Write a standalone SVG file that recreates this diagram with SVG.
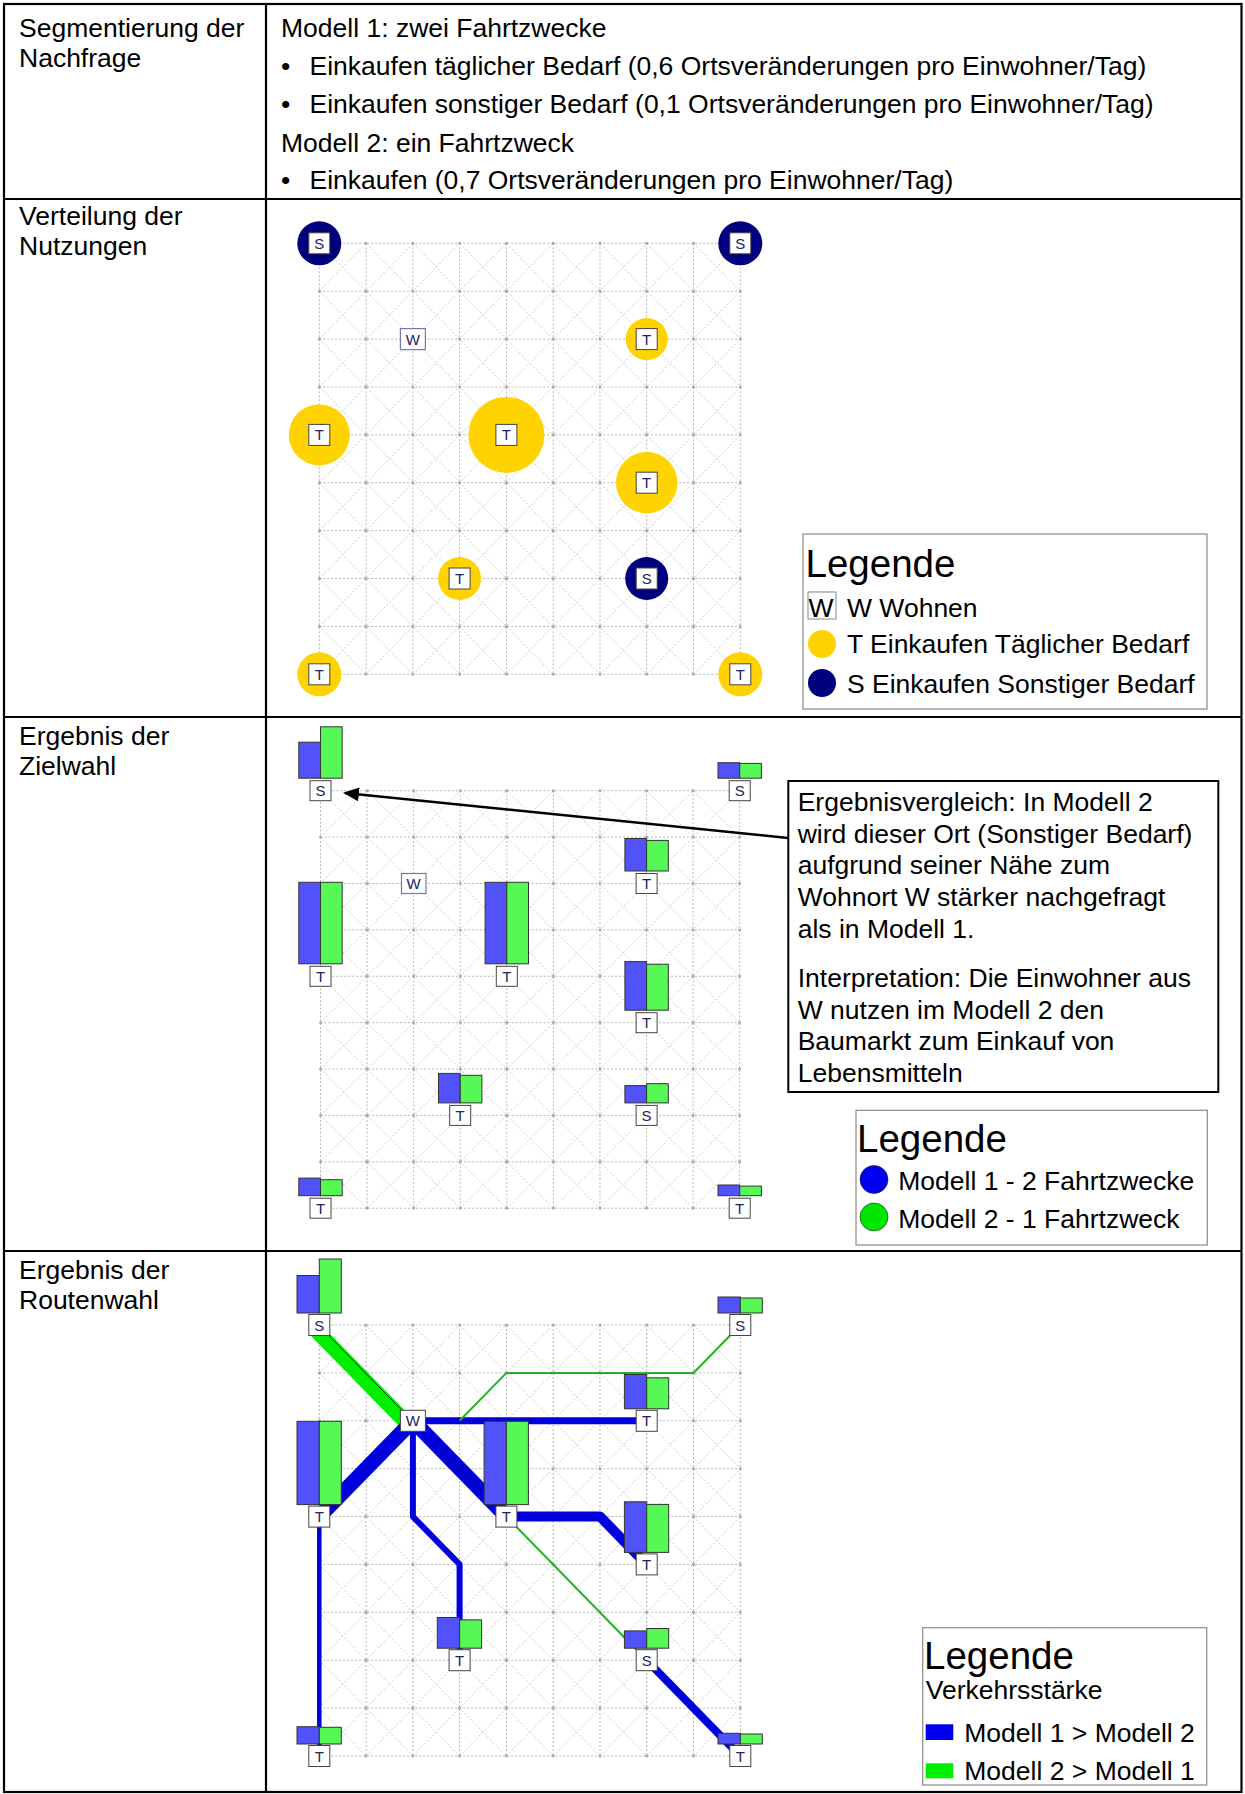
<svg xmlns="http://www.w3.org/2000/svg" width="1245" height="1794" viewBox="0 0 1245 1794">
<style>
.t{font-family:"Liberation Sans",Arial,sans-serif;font-size:26.5px;fill:#000}
.lg{font-family:"Liberation Sans",Arial,sans-serif;font-size:38.5px;fill:#000}
.lbl{font-family:"Liberation Sans",Arial,sans-serif;font-size:15px;fill:#22225e;text-anchor:middle}
.box{fill:#fff;stroke:#444;stroke-width:1}
.wbox{fill:#fff;stroke:#7777aa;stroke-width:1.2}
.bb{fill:#5252fa;stroke:#333;stroke-width:1}
.gb{fill:#55f855;stroke:#333;stroke-width:1}
.tl{stroke:#000;stroke-width:2.2;fill:none}
.go{stroke:#b4b4b4;stroke-width:1;stroke-dasharray:2 2;fill:none}
.gd{stroke:#cdcdcd;stroke-width:1;stroke-dasharray:2 2;fill:none}
.gdot{stroke:#a8a8a8;stroke-width:2.5;stroke-dasharray:2.5 44.278;fill:none}
.yc{fill:#ffd300}
.nc{fill:#00007f}
.rb{stroke:#0000dd;fill:none;stroke-linejoin:round}
.rg{stroke:#25b025;fill:none;stroke-width:2}
.leg{fill:#fff;stroke:#8a8a8a;stroke-width:1.2}
</style>
<defs>
<g id="grid">
<path class="gd" d="M0 383.11L46.78 431M0 335.22L93.56 431M0 287.33L140.33 431M0 239.44L187.11 431M0 191.56L233.89 431M0 143.67L280.67 431M0 95.78L327.44 431M0 47.89L374.22 431M0 0L421 431M46.78 0L421 383.11M93.56 0L421 335.22M140.33 0L421 287.33M187.11 0L421 239.44M233.89 0L421 191.56M280.67 0L421 143.67M327.44 0L421 95.78M374.22 0L421 47.89M0 47.89L46.78 0M0 95.78L93.56 0M0 143.67L140.33 0M0 191.56L187.11 0M0 239.44L233.89 0M0 287.33L280.67 0M0 335.22L327.44 0M0 383.11L374.22 0M0 431L421 0M46.78 431L421 47.89M93.56 431L421 95.78M140.33 431L421 143.67M187.11 431L421 191.56M233.89 431L421 239.44M280.67 431L421 287.33M327.44 431L421 335.22M374.22 431L421 383.11"/>
<path class="go" d="M0 0V431M46.78 0V431M93.56 0V431M140.33 0V431M187.11 0V431M233.89 0V431M280.67 0V431M327.44 0V431M374.22 0V431M421 0V431M0 0H421M0 47.89H421M0 95.78H421M0 143.67H421M0 191.56H421M0 239.44H421M0 287.33H421M0 335.22H421M0 383.11H421M0 431H421"/>
<path class="gdot" d="M-1.25 0H422.5M-1.25 47.89H422.5M-1.25 95.78H422.5M-1.25 143.67H422.5M-1.25 191.56H422.5M-1.25 239.44H422.5M-1.25 287.33H422.5M-1.25 335.22H422.5M-1.25 383.11H422.5M-1.25 431H422.5"/>
</g>
<marker id="ah" viewBox="0 0 16 14" refX="14" refY="7" markerWidth="16" markerHeight="14" markerUnits="userSpaceOnUse" orient="auto"><path d="M0,0 L16,7 L0,14 z" fill="#000"/></marker>
</defs>

<g id="table">
<rect class="tl" x="4" y="4" width="1237.5" height="1788"/>
<path class="tl" d="M266 4V1792M4 199H1241.5M4 717H1241.5M4 1251H1241.5"/>
</g>

<g id="row1">
<text class="t" x="19" y="37">Segmentierung der</text>
<text class="t" x="19" y="67">Nachfrage</text>
<text class="t" x="281" y="37">Modell 1: zwei Fahrtzwecke</text>
<text class="t" x="281" y="75">•</text><text class="t" x="309.5" y="75">Einkaufen täglicher Bedarf (0,6 Ortsveränderungen pro Einwohner/Tag)</text>
<text class="t" x="281" y="113">•</text><text class="t" x="309.5" y="113">Einkaufen sonstiger Bedarf (0,1 Ortsveränderungen pro Einwohner/Tag)</text>
<text class="t" x="281" y="152">Modell 2: ein Fahrtzweck</text>
<text class="t" x="281" y="189">•</text><text class="t" x="309.5" y="189">Einkaufen (0,7 Ortsveränderungen pro Einwohner/Tag)</text>
</g>

<g id="row2">
<text class="t" x="19" y="225">Verteilung der</text>
<text class="t" x="19" y="255">Nutzungen</text>
<use href="#grid" transform="translate(319.3,243.3)"/>
<g id="r2-S00"><circle class="nc" cx="319.3" cy="243.3" r="22"/><rect class="box" x="308.8" y="232.8" width="21" height="21"/><text class="lbl" x="319.3" y="248.8">S</text></g>
<g id="r2-S90"><circle class="nc" cx="740.3" cy="243.3" r="22"/><rect class="box" x="729.8" y="232.8" width="21" height="21"/><text class="lbl" x="740.3" y="248.8">S</text></g>
<g id="r2-W"><rect class="wbox" x="400.4" y="328.6" width="25" height="21"/><text class="lbl" x="412.9" y="344.6">W</text></g>
<g id="r2-T72"><circle class="yc" cx="646.7" cy="339.1" r="21"/><rect class="box" x="636.2" y="328.6" width="21" height="21"/><text class="lbl" x="646.7" y="344.6">T</text></g>
<g id="r2-T04"><circle class="yc" cx="319.3" cy="434.9" r="30.5"/><rect class="box" x="308.8" y="424.4" width="21" height="21"/><text class="lbl" x="319.3" y="440.4">T</text></g>
<g id="r2-T44"><circle class="yc" cx="506.4" cy="434.9" r="38"/><rect class="box" x="495.9" y="424.4" width="21" height="21"/><text class="lbl" x="506.4" y="440.4">T</text></g>
<g id="r2-T75"><circle class="yc" cx="646.7" cy="482.7" r="30.7"/><rect class="box" x="636.2" y="472.2" width="21" height="21"/><text class="lbl" x="646.7" y="488.2">T</text></g>
<g id="r2-T37"><circle class="yc" cx="459.6" cy="578.5" r="21.5"/><rect class="box" x="449.1" y="568" width="21" height="21"/><text class="lbl" x="459.6" y="584">T</text></g>
<g id="r2-S77"><circle class="nc" cx="646.7" cy="578.5" r="21.5"/><rect class="box" x="636.2" y="568" width="21" height="21"/><text class="lbl" x="646.7" y="584">S</text></g>
<g id="r2-T09"><circle class="yc" cx="319.3" cy="674.3" r="22"/><rect class="box" x="308.8" y="663.8" width="21" height="21"/><text class="lbl" x="319.3" y="679.8">T</text></g>
<g id="r2-T99"><circle class="yc" cx="740.3" cy="674.3" r="22"/><rect class="box" x="729.8" y="663.8" width="21" height="21"/><text class="lbl" x="740.3" y="679.8">T</text></g>
<g id="r2-legend">
<rect class="leg" x="803" y="534" width="404" height="175"/>
<text class="lg" x="805.5" y="577">Legende</text>
<rect x="808" y="592" width="28" height="27" fill="#fff" stroke="#888" stroke-width="1"/>
<text class="t" x="808.5" y="617">W</text>
<text class="t" x="847" y="617">W Wohnen</text>
<circle class="yc" cx="822" cy="644" r="14"/>
<text class="t" x="847" y="653">T Einkaufen Täglicher Bedarf</text>
<circle class="nc" cx="822" cy="683" r="14"/>
<text class="t" x="847" y="693">S Einkaufen Sonstiger Bedarf</text>
</g>
</g>

<g id="row3">
<text class="t" x="19" y="745">Ergebnis der</text>
<text class="t" x="19" y="775">Zielwahl</text>
<use href="#grid" transform="translate(320.5,790.7) scale(0.9957,0.9687)"/>
<g id="r3-S00"><rect class="bb" x="298.8" y="742.2" width="21.7" height="36"/><rect class="gb" x="320.5" y="726.8" width="21.7" height="51.4"/><rect class="box" x="310" y="780.7" width="21" height="20"/><text class="lbl" x="320.5" y="796">S</text></g>
<g id="r3-S90"><rect class="bb" x="718" y="762.7" width="21.7" height="15.5"/><rect class="gb" x="739.7" y="763.4" width="21.7" height="14.8"/><rect class="box" x="729.2" y="780.7" width="21" height="20"/><text class="lbl" x="739.7" y="796">S</text></g>
<g id="r3-W"><rect class="wbox" x="401.5" y="873.5" width="24.5" height="20"/><text class="lbl" x="413.7" y="889">W</text></g>
<g id="r3-T72"><rect class="bb" x="624.9" y="838.5" width="21.7" height="32.5"/><rect class="gb" x="646.6" y="840.4" width="21.7" height="30.6"/><rect class="box" x="636.1" y="873.5" width="21" height="20"/><text class="lbl" x="646.6" y="889">T</text></g>
<g id="r3-T04"><rect class="bb" x="298.8" y="882.3" width="21.7" height="81.5"/><rect class="gb" x="320.5" y="882.3" width="21.7" height="81.5"/><rect class="box" x="310" y="966.3" width="21" height="20"/><text class="lbl" x="320.5" y="981.8">T</text></g>
<g id="r3-T44"><rect class="bb" x="485.1" y="882.3" width="21.7" height="81.5"/><rect class="gb" x="506.8" y="882.3" width="21.7" height="81.5"/><rect class="box" x="496.3" y="966.3" width="21" height="20"/><text class="lbl" x="506.8" y="981.8">T</text></g>
<g id="r3-T75"><rect class="bb" x="624.9" y="961.6" width="21.7" height="48.6"/><rect class="gb" x="646.6" y="964.2" width="21.7" height="46"/><rect class="box" x="636.1" y="1012.7" width="21" height="20"/><text class="lbl" x="646.6" y="1028.2">T</text></g>
<g id="r3-T37"><rect class="bb" x="438.5" y="1073.4" width="21.7" height="29.5"/><rect class="gb" x="460.2" y="1075.3" width="21.7" height="27.6"/><rect class="box" x="449.7" y="1105.4" width="21" height="20"/><text class="lbl" x="460.2" y="1120.9">T</text></g>
<g id="r3-S77"><rect class="bb" x="624.9" y="1085.6" width="21.7" height="17.3"/><rect class="gb" x="646.6" y="1083.7" width="21.7" height="19.2"/><rect class="box" x="636.1" y="1105.4" width="21" height="20"/><text class="lbl" x="646.6" y="1120.9">S</text></g>
<g id="r3-T09"><rect class="bb" x="298.8" y="1178.1" width="21.7" height="17.6"/><rect class="gb" x="320.5" y="1179.7" width="21.7" height="16"/><rect class="box" x="310" y="1198.2" width="21" height="20"/><text class="lbl" x="320.5" y="1213.7">T</text></g>
<g id="r3-T99"><rect class="bb" x="718" y="1185" width="21.7" height="10.7"/><rect class="gb" x="739.7" y="1186.1" width="21.7" height="9.6"/><rect class="box" x="729.2" y="1198.2" width="21" height="20"/><text class="lbl" x="739.7" y="1213.7">T</text></g>
<g id="r3-note">
<rect x="788.3" y="781" width="430" height="311" fill="#fff" stroke="#000" stroke-width="2"/>
<text class="t" x="797.7" y="811">Ergebnisvergleich: In Modell 2</text>
<text class="t" x="797.7" y="842.5">wird dieser Ort (Sonstiger Bedarf)</text>
<text class="t" x="797.7" y="874">aufgrund seiner Nähe zum</text>
<text class="t" x="797.7" y="906">Wohnort W stärker nachgefragt</text>
<text class="t" x="797.7" y="938">als in Modell 1.</text>
<text class="t" x="797.7" y="987">Interpretation: Die Einwohner aus</text>
<text class="t" x="797.7" y="1018.5">W nutzen im Modell 2 den</text>
<text class="t" x="797.7" y="1050">Baumarkt zum Einkauf von</text>
<text class="t" x="797.7" y="1081.5">Lebensmitteln</text>
</g>
<g id="r3-legend">
<rect class="leg" x="856" y="1110.3" width="351.3" height="134.7"/>
<text class="lg" x="857" y="1152.4">Legende</text>
<circle cx="874" cy="1179.5" r="14" fill="#0000f0" stroke="#222" stroke-width="0.6"/>
<text class="t" x="898.3" y="1190">Modell 1 - 2 Fahrtzwecke</text>
<circle cx="874" cy="1217" r="14" fill="#00e600" stroke="#222" stroke-width="0.6"/>
<text class="t" x="898.3" y="1227.7">Modell 2 - 1 Fahrtzweck</text>
</g>
</g>

<g id="row4-base">
<text class="t" x="19" y="1279">Ergebnis der</text>
<text class="t" x="19" y="1309">Routenwahl</text>
<use href="#grid" transform="translate(319.3,1325)"/>
</g>

<g id="connectors">
<line x1="788" y1="838" x2="345" y2="793" stroke="#000" stroke-width="2.5" marker-end="url(#ah)"/>
<g id="r4-routes">
<path d="M315.2 1329.5L408.8 1425.3" stroke="#00ee00" stroke-width="15" fill="none"/>
<path d="M322.3 1329L412.9 1421.5" stroke="#005a00" stroke-width="1" fill="none"/>
<path class="rb" stroke-width="15" d="M412.9 1420.8L319.3 1516.6"/>
<path class="rb" stroke-width="15" d="M412.9 1420.8L506.4 1516.6"/>
<path d="M415 1424L505 1516" stroke="#00008a" stroke-width="1" fill="none"/>
<path class="rb" stroke-width="7" d="M412.9 1420.8H646.7"/>
<path class="rb" stroke-width="6" d="M412.9 1420.8V1516.6L459.6 1564.4V1660.2"/>
<path class="rb" stroke-width="10" d="M506.4 1516.6H600L646.7 1564.4"/>
<path class="rb" stroke-width="4.5" d="M319.3 1516.6V1756"/>
<path class="rb" stroke-width="8" d="M646.7 1660.2L740.3 1756"/>
<path class="rg" d="M740.3 1325L693.5 1372.9H506.4L459.6 1420.8"/>
<path class="rg" d="M506.4 1516.6L646.7 1660.2"/>
</g>
</g>

<g id="row4">
<g id="r4-S00"><rect class="bb" x="297" y="1275.5" width="22.3" height="37.5"/><rect class="gb" x="319.3" y="1259" width="22" height="54"/><rect class="box" x="308.8" y="1314.5" width="21" height="21"/><text class="lbl" x="319.3" y="1330.5">S</text></g>
<g id="r4-S90"><rect class="bb" x="718" y="1297" width="22.3" height="16"/><rect class="gb" x="740.3" y="1298" width="22" height="15"/><rect class="box" x="729.8" y="1314.5" width="21" height="21"/><text class="lbl" x="740.3" y="1330.5">S</text></g>
<g id="r4-W"><rect class="box" x="400.4" y="1410.3" width="25" height="21" stroke="#555"/><text class="lbl" x="412.9" y="1426.3">W</text></g>
<g id="r4-T72"><rect class="bb" x="624.4" y="1374.5" width="22.3" height="34.3"/><rect class="gb" x="646.7" y="1377.8" width="22" height="31"/><rect class="box" x="636.2" y="1410.3" width="21" height="21"/><text class="lbl" x="646.7" y="1426.3">T</text></g>
<g id="r4-T04"><rect class="bb" x="297" y="1421.3" width="22.3" height="83.3"/><rect class="gb" x="319.3" y="1421.3" width="22" height="83.3"/><rect class="box" x="308.8" y="1506.1" width="21" height="21"/><text class="lbl" x="319.3" y="1522.1">T</text></g>
<g id="r4-T44"><rect class="bb" x="484.1" y="1421.3" width="22.3" height="83.3"/><rect class="gb" x="506.4" y="1421.3" width="22" height="83.3"/><rect class="box" x="495.9" y="1506.1" width="21" height="21"/><text class="lbl" x="506.4" y="1522.1">T</text></g>
<g id="r4-T75"><rect class="bb" x="624.4" y="1501.8" width="22.3" height="50.6"/><rect class="gb" x="646.7" y="1504.4" width="22" height="48"/><rect class="box" x="636.2" y="1553.9" width="21" height="21"/><text class="lbl" x="646.7" y="1569.9">T</text></g>
<g id="r4-T37"><rect class="bb" x="437.3" y="1617.5" width="22.3" height="30.7"/><rect class="gb" x="459.6" y="1619.9" width="22" height="28.3"/><rect class="box" x="449.1" y="1649.7" width="21" height="21"/><text class="lbl" x="459.6" y="1665.7">T</text></g>
<g id="r4-S77"><rect class="bb" x="624.4" y="1630.9" width="22.3" height="17.3"/><rect class="gb" x="646.7" y="1628.5" width="22" height="19.7"/><rect class="box" x="636.2" y="1649.7" width="21" height="21"/><text class="lbl" x="646.7" y="1665.7">S</text></g>
<g id="r4-T09"><rect class="bb" x="297" y="1726.7" width="22.3" height="17.3"/><rect class="gb" x="319.3" y="1727.3" width="22" height="16.7"/><rect class="box" x="308.8" y="1745.5" width="21" height="21"/><text class="lbl" x="319.3" y="1761.5">T</text></g>
<g id="r4-T99"><rect class="bb" x="718" y="1733.3" width="22.3" height="10.7"/><rect class="gb" x="740.3" y="1734" width="22" height="10"/><rect class="box" x="729.8" y="1745.5" width="21" height="21"/><text class="lbl" x="740.3" y="1761.5">T</text></g>
<g id="r4-legend">
<rect class="leg" x="922.7" y="1627.7" width="284" height="157.3"/>
<text class="lg" x="924" y="1669.3">Legende</text>
<text class="t" x="925.7" y="1699.3">Verkehrsstärke</text>
<rect x="925.7" y="1724.3" width="27.6" height="15.7" fill="#0000ee"/>
<text class="t" x="964.3" y="1741.7">Modell 1 &gt; Modell 2</text>
<rect x="925.7" y="1763.3" width="27.6" height="15" fill="#00ee00"/>
<text class="t" x="964.3" y="1780">Modell 2 &gt; Modell 1</text>
</g>
</g>
</svg>
